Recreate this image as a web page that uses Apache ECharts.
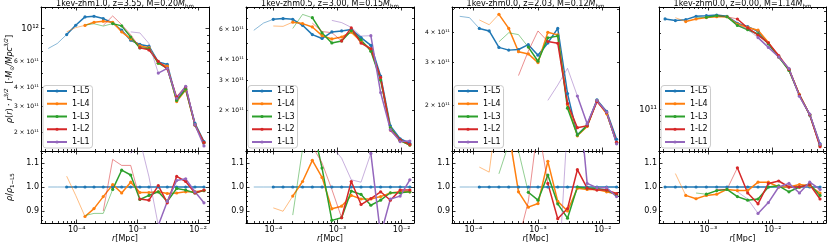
<!DOCTYPE html>
<html><head><meta charset="utf-8">
<script src="https://cdn.jsdelivr.net/npm/echarts@6/dist/echarts.min.js"></script>
<style>html,body{margin:0;padding:0;background:#fff}#c{width:830px;height:242px}</style>
</head><body><div id="c"></div>
<script>
// ===================== DATA =====================
const seriesNames = ['1-L5', '1-L4', '1-L3', '1-L2', '1-L1'];
const titleMain = ['1kev-zhm1.0, z=3.55, M=0.20', '1kev-zhm0.5, z=3.00, M=0.15', '1kev-zhm0.0, z=2.03, M=0.12', '1kev-zhm0.0, z=0.00, M=1.14'];
const rhoUnit = 1e11; // rho arrays are in units of 1e11 M_sun/Mpc^{3/2}

// ---- panel 1 ----
const r_p1 = [3.40e-5, 4.79e-5, 6.84e-5, 9.64e-5, 1.37e-4, 1.93e-4, 2.74e-4, 3.92e-4, 5.51e-4, 7.76e-4, 1.10e-3, 1.55e-3, 2.21e-3, 3.11e-3, 4.44e-3, 6.25e-3, 8.89e-3, 1.25e-2];
const rho_p1_L5 = [7.34, 7.93, 9.11, 10.52, 11.97, 12.10, 11.67, 10.90, 9.74, 8.34, 7.81, 7.60, 5.96, 5.73, 3.30, 3.95, 2.30, 1.73];
const rho_p1_L4 = [null, null, 9.50, 10.15, 10.50, 11.01, 11.20, 11.01, 9.50, 8.51, 7.63, 7.43, 5.84, 5.58, 3.22, 3.87, 2.25, 1.70];
const rho_p1_L3 = [null, null, null, null, 10.55, 10.77, 10.39, 10.79, 10.42, 8.76, 7.40, 7.33, 5.84, 5.39, 3.28, 3.90, 2.24, 1.70];
const rho_p1_L2 = [null, null, null, null, null, null, 10.50, 12.15, 10.62, 9.09, 7.42, 7.18, 6.00, 5.35, 3.45, 4.04, 2.24, 1.71];
const rho_p1_L1 = [null, null, null, null, null, null, null, null, null, 9.49, 9.34, 7.93, 5.01, 5.39, 3.39, 4.08, 2.25, 1.62];
const ratio_p1_L5 = [1, 1, 1, 1, 1, 1, 1, 1, 1, 1, 1, 1, 1, 1, 1, 1, 1, 1];
const ratio_p1_L4 = [null, null, 1.045, 0.965, 0.877, 0.91, 0.96, 1.01, 0.975, 1.02, 0.977, 0.977, 0.98, 0.973, 0.975, 0.98, 0.98, 0.985];
const ratio_p1_L3 = [null, null, null, null, 0.881, 0.89, 0.89, 0.99, 1.07, 1.05, 0.948, 0.965, 0.98, 0.94, 0.994, 0.987, 0.975, 0.985];
const ratio_p1_L2 = [null, null, null, null, null, null, 0.90, 1.115, 1.09, 1.09, 0.95, 0.945, 1.006, 0.934, 1.044, 1.023, 0.975, 0.987];
const ratio_p1_L1 = [null, null, null, null, null, null, null, null, null, 1.14, 1.196, 1.043, 0.84, 0.94, 1.027, 1.034, 0.98, 0.934];
const conv_p1 = [2, 4, 7, 10, 12];

// ---- panel 2 ----
const r_p2 = [4.97e-5, 7.05e-5, 1.00e-4, 1.42e-4, 2.01e-4, 2.86e-4, 4.06e-4, 5.75e-4, 8.17e-4, 1.16e-3, 1.64e-3, 2.33e-3, 3.31e-3, 4.70e-3, 6.67e-3, 9.46e-3, 1.34e-2];
const rho_p2_L5 = [5.94, 6.56, 6.90, 6.97, 6.90, 6.36, 5.60, 5.31, 5.81, 5.89, 6.00, 5.38, 4.84, 3.18, 1.61, 1.35, 1.27];
const rho_p2_L4 = [null, null, 6.30, 6.27, 6.64, 6.51, 6.22, 5.52, 5.28, 5.42, 5.79, 5.11, 4.60, 3.05, 1.57, 1.32, 1.24];
const rho_p2_L3 = [null, null, null, null, 6.09, 7.38, 7.06, 5.73, 5.00, 5.14, 5.90, 5.21, 4.47, 3.01, 1.57, 1.32, 1.24];
const rho_p2_L2 = [null, null, null, null, null, null, 6.55, 5.84, 5.75, 5.14, 6.14, 4.99, 4.61, 3.12, 1.52, 1.33, 1.25];
const rho_p2_L1 = [null, null, null, null, null, null, null, null, 6.80, 6.60, 6.18, 5.49, 5.52, 2.54, 1.53, 1.30, 1.31];
const ratio_p2_L5 = [1, 1, 1, 1, 1, 1, 1, 1, 1, 1, 1, 1, 1, 1, 1, 1, 1];
const ratio_p2_L4 = [null, null, 0.913, 0.899, 0.962, 1.023, 1.111, 1.04, 0.909, 0.92, 0.965, 0.95, 0.95, 0.96, 0.975, 0.98, 0.98];
const ratio_p2_L3 = [null, null, null, null, 0.883, 1.16, 1.26, 1.079, 0.861, 0.872, 0.983, 0.969, 0.924, 0.945, 0.976, 0.976, 0.98];
const ratio_p2_L2 = [null, null, null, null, null, null, 1.17, 1.10, 0.99, 0.872, 1.023, 0.927, 0.952, 0.98, 0.945, 0.987, 0.987];
const ratio_p2_L1 = [null, null, null, null, null, null, null, null, 1.17, 1.12, 1.03, 1.02, 1.14, 0.80, 0.95, 0.962, 1.03];
const conv_p2 = [2, 4, 6, 9, 12];

// ---- panel 3 ----
const r_p3 = [6.17e-5, 8.74e-5, 1.24e-4, 1.76e-4, 2.49e-4, 3.53e-4, 5.00e-4, 7.09e-4, 1.00e-3, 1.42e-3, 2.02e-3, 2.86e-3, 4.06e-3, 5.75e-3, 8.15e-3, 1.15e-2, 1.64e-2];
const rho_p3_L5 = [4.67, 4.61, 4.16, 4.06, 3.47, 3.38, 3.40, 3.56, 3.22, 3.62, 4.16, 2.23, 1.50, 1.65, 2.10, 1.88, 1.44];
const rho_p3_L4 = [null, null, 4.51, 4.31, 4.76, 4.16, 3.33, 3.26, 3.00, 4.01, 3.91, 2.01, 1.49, 1.63, 2.08, 1.84, 1.40];
const rho_p3_L3 = [null, null, null, null, 3.66, 3.99, 3.92, 3.48, 3.04, 3.80, 3.87, 1.94, 1.50, 1.64, 2.09, 1.86, 1.39];
const rho_p3_L2 = [null, null, null, null, null, null, 2.65, 3.35, 4.06, 3.67, 3.61, 2.03, 1.61, 1.64, 2.07, 1.86, 1.40];
const rho_p3_L1 = [null, null, null, null, null, null, null, null, null, 2.09, 2.42, 2.84, 2.18, 1.67, 2.09, 1.87, 1.38];
const ratio_p3_L5 = [1, 1, 1, 1, 1, 1, 1, 1, 1, 1, 1, 1, 1, 1, 1, 1, 1];
const ratio_p3_L4 = [null, null, 1.083, 1.062, 1.37, 1.23, 0.98, 0.916, 0.931, 1.107, 0.94, 0.90, 0.995, 0.99, 0.99, 0.98, 0.97];
const ratio_p3_L3 = [null, null, null, null, 1.055, 1.18, 1.15, 0.978, 0.945, 1.05, 0.93, 0.87, 1.0, 0.995, 0.995, 0.987, 0.966];
const ratio_p3_L2 = [null, null, null, null, null, null, 0.78, 0.94, 1.26, 1.015, 0.868, 0.91, 1.072, 0.995, 0.987, 0.987, 0.973];
const ratio_p3_L1 = [null, null, null, null, null, null, null, null, null, 0.58, 0.58, 1.27, 1.45, 1.015, 0.997, 0.997, 0.96];
const conv_p3 = [2, 4, 7, 9, 12];

// ---- panel 4 ----
const r_p4 = [2.13e-4, 3.08e-4, 4.46e-4, 6.45e-4, 9.33e-4, 1.35e-3, 1.95e-3, 2.83e-3, 4.09e-3, 5.92e-3, 8.57e-3, 1.24e-2, 1.79e-2, 2.60e-2, 3.76e-2, 5.44e-2];
const rho_p4_L5 = [5.24, 5.08, 5.17, 5.50, 5.56, 5.63, 5.50, 4.84, 4.55, 4.18, 3.33, 2.61, 2.08, 1.30, 0.90, 0.532];
const rho_p4_L4 = [null, 5.36, 4.99, 5.23, 5.37, 5.46, 5.45, 4.77, 4.48, 4.26, 3.40, 2.61, 2.08, 1.31, 0.905, 0.519];
const rho_p4_L3 = [null, null, null, 5.36, 5.39, 5.55, 5.45, 4.65, 4.30, 3.97, 3.33, 2.62, 2.04, 1.30, 0.909, 0.513];
const rho_p4_L2 = [null, null, null, null, null, 5.57, 5.45, 5.23, 4.44, 3.89, 3.38, 2.68, 2.08, 1.30, 0.909, 0.505];
const rho_p4_L1 = [null, null, null, null, null, null, null, 4.74, 4.32, 3.72, 3.11, 2.61, 2.11, 1.27, 0.918, 0.527];
const ratio_p4_L5 = [1, 1, 1, 1, 1, 1, 1, 1, 1, 1, 1, 1, 1, 1, 1, 1];
const ratio_p4_L4 = [null, 1.056, 0.965, 0.951, 0.965, 0.97, 0.99, 0.985, 0.985, 1.02, 1.02, 1.0, 1.0, 1.01, 1.005, 0.975];
const ratio_p4_L3 = [null, null, null, 0.975, 0.97, 0.985, 0.99, 0.96, 0.945, 0.95, 1.0, 1.005, 0.98, 1.0, 1.01, 0.965];
const ratio_p4_L2 = [null, null, null, null, null, 0.99, 0.99, 1.08, 0.975, 0.93, 1.015, 1.025, 1.0, 1.0, 1.01, 0.95];
const ratio_p4_L1 = [null, null, null, null, null, null, null, 0.98, 0.95, 0.89, 0.935, 1.0, 1.015, 0.975, 1.02, 0.99];
const conv_p4 = [0, 2, 4, 7, 9];

// tick label lists
const ratioMajorTicks = [0.9, 1.0, 1.1];
const ratioMinorTicks = [0.86, 0.88, 0.92, 0.94, 0.96, 0.98, 1.02, 1.04, 1.06, 1.08, 1.12, 1.14];
const rhoMinorLabelMantissa = [[2, 3, 4, 6], [2, 3, 4, 6], [2, 3, 4], []];

const panels = [
  { r: r_p1, rho: [rho_p1_L5, rho_p1_L4, rho_p1_L3, rho_p1_L2, rho_p1_L1], ratio: [ratio_p1_L5, ratio_p1_L4, ratio_p1_L3, ratio_p1_L2, ratio_p1_L1], conv: conv_p1 },
  { r: r_p2, rho: [rho_p2_L5, rho_p2_L4, rho_p2_L3, rho_p2_L2, rho_p2_L1], ratio: [ratio_p2_L5, ratio_p2_L4, ratio_p2_L3, ratio_p2_L2, ratio_p2_L1], conv: conv_p2 },
  { r: r_p3, rho: [rho_p3_L5, rho_p3_L4, rho_p3_L3, rho_p3_L2, rho_p3_L1], ratio: [ratio_p3_L5, ratio_p3_L4, ratio_p3_L3, ratio_p3_L2, ratio_p3_L1], conv: conv_p3 },
  { r: r_p4, rho: [rho_p4_L5, rho_p4_L4, rho_p4_L3, rho_p4_L2, rho_p4_L1], ratio: [ratio_p4_L5, ratio_p4_L4, ratio_p4_L3, ratio_p4_L2, ratio_p4_L1], conv: conv_p4 }
];

// ===================== LAYOUT / STYLE =====================
const FONT = 'DejaVu Sans';
const colors = ['#1f77b4', '#ff7f0e', '#2ca02c', '#d62728', '#9467bd'];
const colLeft = [41, 246, 452, 659];
const colWidth = [168, 168, 167, 167];
const topY = 7, topH = 144, botY = 151, botH = 72;
// axis limits in log10 space
const xLim = [[-4.588, -1.820], [-4.425, -1.808], [-4.329, -1.748], [-3.766, -1.172]];
const yLimTop = [[11.175, 12.145], [11.058, 11.912], [11.110, 11.708], [10.669, 11.814]];
const yLimBot = [0.85, 1.15];

const SUP = { '-': '\u207B', '0': '\u2070', '1': '\u00B9', '2': '\u00B2', '3': '\u00B3', '4': '\u2074', '5': '\u2075', '6': '\u2076', '7': '\u2077', '8': '\u2078', '9': '\u2079' };
function sup(n) { return String(n).split('').map(c => SUP[c]).join(''); }
function fmtPow(v) { return '10' + sup(Math.round(v)); }
function fmtMant(v) { const e = Math.floor(v + 1e-9); const m = Math.round(Math.pow(10, v - e)); return m + ' \u00D7 10' + sup(e); }

function logTicks(lo, hi) {
  const major = [], minor = [];
  for (let n = Math.floor(lo); n <= Math.ceil(hi); n++) {
    if (n >= lo && n <= hi) major.push(n);
    for (let k = 2; k <= 9; k++) { const v = n + Math.log10(k); if (v >= lo && v <= hi) minor.push(v); }
  }
  return { major, minor };
}

function mkAxis(dim, g, pos, lim, tickVals, tickLen, showLine, labelVals, fmt, labelSize) {
  const hasLabels = labelVals && labelVals.length > 0;
  return {
    type: 'value', gridIndex: g, position: pos, min: lim[0], max: lim[1],
    axisLine: { show: showLine, onZero: false, lineStyle: { color: '#000', width: 1 } },
    axisTick: { show: tickVals.length > 0, inside: true, length: tickLen, customValues: tickVals, lineStyle: { color: '#000', width: 0.8 } },
    axisLabel: hasLabels ? { show: true, customValues: labelVals, formatter: fmt, fontSize: labelSize || 8, fontFamily: FONT, color: '#000', margin: dim === 'x' ? 3 : 2, hideOverlap: false } : { show: false },
    splitLine: { show: false }, minorTick: { show: false }, minorSplitLine: { show: false }, silent: true
  };
}

const grids = [], xAxes = [], yAxes = [], series = [], legends = [], graphics = [];

panels.forEach((P, p) => {
  const L = colLeft[p], W = colWidth[p];
  const xt = logTicks(xLim[p][0], xLim[p][1]);
  const yt = logTicks(yLimTop[p][0], yLimTop[p][1]);
  const minorLab = rhoMinorLabelMantissa[p].map(m => 11 + Math.log10(m));
  [0, 1].forEach(sub => {
    const g = p * 2 + sub;
    grids.push({ left: L, top: sub ? botY : topY, width: W, height: sub ? botH : topH });
    xAxes.push(mkAxis('x', g, 'bottom', xLim[p], xt.major, 3.5, true, sub ? xt.major : null, fmtPow));
    xAxes.push(mkAxis('x', g, 'bottom', xLim[p], xt.minor, 2, false));
    xAxes.push(mkAxis('x', g, 'top', xLim[p], xt.major, 3.5, true));
    xAxes.push(mkAxis('x', g, 'top', xLim[p], xt.minor, 2, false));
    if (sub === 0) {
      yAxes.push(mkAxis('y', g, 'left', yLimTop[p], yt.major, 3.5, true, yt.major, fmtPow, 8.5));
      yAxes.push(mkAxis('y', g, 'left', yLimTop[p], yt.minor, 2, false, minorLab, fmtMant, 6));
      yAxes.push(mkAxis('y', g, 'right', yLimTop[p], yt.major, 3.5, true));
      yAxes.push(mkAxis('y', g, 'right', yLimTop[p], yt.minor, 2, false));
    } else {
      yAxes.push(mkAxis('y', g, 'left', yLimBot, ratioMajorTicks, 3.5, true, ratioMajorTicks, v => v.toFixed(1), 8));
      yAxes.push(mkAxis('y', g, 'left', yLimBot, ratioMinorTicks, 2, false));
      yAxes.push(mkAxis('y', g, 'right', yLimBot, ratioMajorTicks, 3.5, true));
      yAxes.push(mkAxis('y', g, 'right', yLimBot, ratioMinorTicks, 2, false));
    }
    for (let s = 0; s < 5; s++) {
      const vals = sub ? P.ratio[s] : P.rho[s];
      const start = vals.findIndex(v => v != null);
      const c = P.conv[s];
      const pt = i => [Math.log10(P.r[i]), sub ? vals[i] : Math.log10(vals[i] * rhoUnit)];
      const thin = [], thick = [];
      for (let i = start; i <= c; i++) thin.push(pt(i));
      for (let i = c; i < vals.length; i++) if (vals[i] != null) thick.push(pt(i));
      const common = { type: 'line', xAxisIndex: g * 4, yAxisIndex: g * 4, animation: false, silent: true, clip: true, emphasis: { disabled: true } };
      if (thin.length > 1) {
        series.push(Object.assign({}, common, { name: seriesNames[s] + ' thin', data: thin, symbol: 'none', lineStyle: { color: colors[s], width: 0.8, opacity: 0.65 }, itemStyle: { color: colors[s] } }));
      }
      series.push(Object.assign({}, common, { name: seriesNames[s], data: thick, symbol: 'circle', symbolSize: 3.2, showAllSymbol: true, lineStyle: { color: colors[s], width: 1.5 }, itemStyle: { color: colors[s] } }));
    }
  });
  legends.push({
    data: seriesNames, orient: 'vertical', left: L + 2, top: 85.5, itemWidth: 20, itemHeight: 4, itemGap: 4.75,
    padding: [1.5, 3, 2, 3], backgroundColor: 'rgba(255,255,255,0.8)', borderColor: '#cccccc', borderWidth: 1, borderRadius: 3,
    selectedMode: false, textStyle: { fontSize: 8, fontFamily: FONT, color: '#000' }
  });
  const rich = {
    n: { fontSize: 8, fontFamily: FONT, fill: '#000', lineHeight: 12 },
    i: { fontSize: 8, fontFamily: FONT, fontStyle: 'italic', fill: '#000', lineHeight: 12 },
    sub: { fontSize: 5.6, fontFamily: FONT, fill: '#000', lineHeight: 8, verticalAlign: 'bottom' }
  };
  graphics.push({ type: 'text', x: L + W / 2, y: 3.5, z: 100, style: { text: '{n|' + titleMain[p] + '}{i|M}{sub|hm}', rich, align: 'center', verticalAlign: 'middle' } });
  graphics.push({ type: 'text', x: L + W / 2, y: 238.5, z: 100, style: { text: '{i|r}{n|[Mpc]}', rich, align: 'center', verticalAlign: 'middle' } });
});

const richY = {
  n: { fontSize: 8, fontFamily: FONT, fill: '#000', lineHeight: 12 },
  i: { fontSize: 8, fontFamily: FONT, fontStyle: 'italic', fill: '#000', lineHeight: 12 },
  sup: { fontSize: 5.6, fontFamily: FONT, fontStyle: 'italic', fill: '#000', lineHeight: 6, verticalAlign: 'top' },
  sub: { fontSize: 5.6, fontFamily: FONT, fontStyle: 'italic', fill: '#000', lineHeight: 8, verticalAlign: 'bottom' },
  subn: { fontSize: 5.6, fontFamily: FONT, fill: '#000', lineHeight: 8, verticalAlign: 'bottom' }
};
graphics.push({ type: 'text', x: 9.5, y: 79, rotation: Math.PI / 2, z: 100, style: { text: '{i|\u03C1}{n|(}{i|r}{n|) \u00B7 }{i|r}{sup|3/2}{n|  [\u00B7}{i|M}{sub|\u2299}{i|/Mpc}{sup|3/2}{n|]}', rich: richY, align: 'center', verticalAlign: 'middle' } });
graphics.push({ type: 'text', x: 9.5, y: 187, rotation: Math.PI / 2, z: 100, style: { text: '{i|\u03C1}{n|/}{i|\u03C1}{subn|1\u2212L5}', rich: richY, align: 'center', verticalAlign: 'middle' } });

const chart = echarts.init(document.getElementById('c'), null, { renderer: 'canvas' });
chart.setOption({
  backgroundColor: '#ffffff', animation: false,
  textStyle: { fontFamily: FONT },
  grid: grids, xAxis: xAxes, yAxis: yAxes, series: series, legend: legends,
  graphic: { elements: graphics }
});
</script></body></html>
